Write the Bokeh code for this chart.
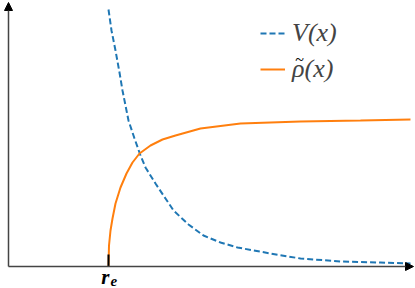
from bokeh.plotting import figure
from bokeh.models import Arrow, NormalHead, Label, Legend, LegendItem, Range1d
from bokeh.embed import file_html
from bokeh.resources import INLINE

r_e = 1.0
v_x = [1.00, 1.03, 1.07, 1.11, 1.14, 1.20, 1.26, 1.32, 1.37, 1.47, 1.57, 1.65, 1.80, 1.95, 2.12, 2.29, 2.62, 2.92, 3.32, 3.72, 4.02]
v_y = [2.57, 2.36, 2.16, 1.94, 1.76, 1.46, 1.28, 1.11, 0.99, 0.83, 0.68, 0.56, 0.42, 0.31, 0.24, 0.19, 0.13, 0.08, 0.05, 0.04, 0.03]
rho_x = [1.00, 1.005, 1.02, 1.04, 1.07, 1.12, 1.18, 1.24, 1.31, 1.42, 1.54, 1.67, 1.92, 2.32, 2.92, 3.52, 4.02]
rho_y = [0.0, 0.21, 0.36, 0.48, 0.63, 0.79, 0.93, 1.04, 1.13, 1.21, 1.27, 1.31, 1.38, 1.43, 1.45, 1.46, 1.47]
x_max = 4.05
y_max = 2.64

SERIF = "serif"

p = figure(width=415, height=288, output_backend="svg", toolbar_location=None,
           x_axis_location=None, y_axis_location=None, min_border=0,
           x_range=Range1d(-0.08, 4.07), y_range=Range1d(-0.22, 2.66))
p.grid.visible = False
p.outline_line_color = None

# axes with arrows
p.add_layout(Arrow(end=NormalHead(size=8, fill_color="black", line_color="black"),
                   x_start=0, y_start=0, x_end=x_max, y_end=0,
                   line_color="#444444", line_width=1.5))
p.add_layout(Arrow(end=NormalHead(size=8, fill_color="black", line_color="black"),
                   x_start=0, y_start=0, x_end=0, y_end=y_max,
                   line_color="#444444", line_width=1.5))

lv = p.line(v_x, v_y, line_color="#1f77b4", line_width=2, line_dash="6 3")
lr = p.line(rho_x, rho_y, line_color="#ff7f0e", line_width=2)

# tick at r_e
p.segment(x0=[r_e], y0=[0], x1=[r_e], y1=[0.12], line_color="black", line_width=2)

p.add_layout(Label(x=r_e + 0.01, y=-0.10, text="r", text_align="right", text_baseline="middle",
                   text_font=SERIF, text_font_style="bold italic",
                   text_font_size="21px", text_color="black"))
p.add_layout(Label(x=r_e + 0.02, y=-0.14, text="e", text_align="left", text_baseline="middle",
                   text_font=SERIF, text_font_style="bold italic",
                   text_font_size="15px", text_color="black"))

legend = Legend(items=[LegendItem(label="V(x)", renderers=[lv]),
                       LegendItem(label="\u03c1(x)", renderers=[lr])],
                location=(260, 204), border_line_color=None, background_fill_alpha=0,
                padding=0, margin=0, spacing=6, glyph_width=25, glyph_height=26,
                label_height=26, label_standoff=7,
                label_text_font=SERIF, label_text_font_style="italic",
                label_text_font_size="26px")
p.add_layout(legend)

# tilde over rho in the legend
p.add_layout(Label(x=299, y=229, x_units="screen", y_units="screen", text="~",
                   text_align="center", text_baseline="middle",
                   text_font=SERIF, text_font_size="16px", text_color="black"))

open("out.html", "w").write(file_html(p, INLINE))
